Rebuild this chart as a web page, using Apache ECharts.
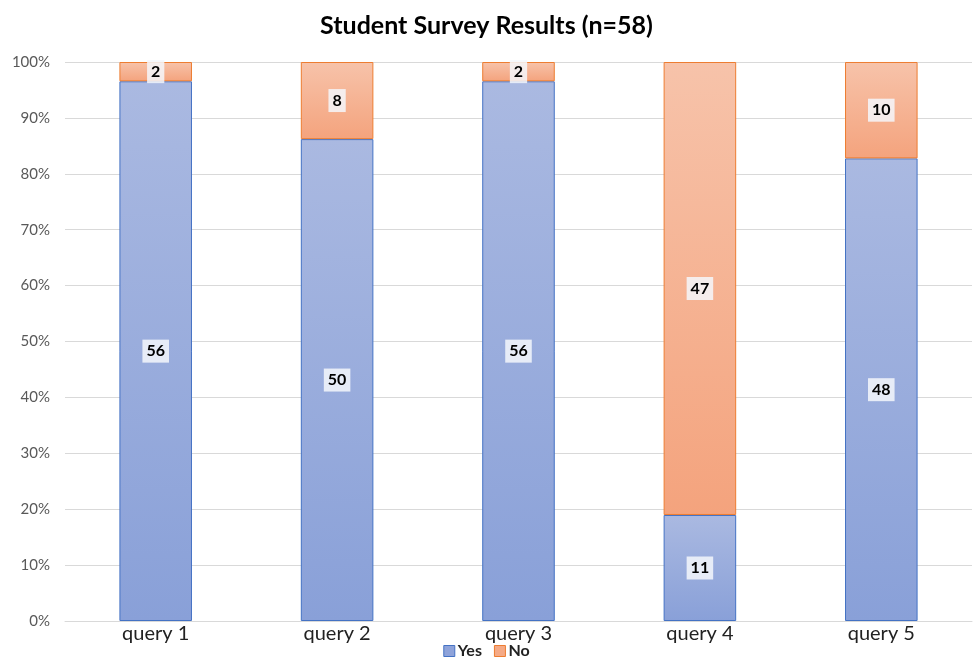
<!DOCTYPE html>
<html>
<head>
<meta charset="utf-8">
<script src="https://cdn.jsdelivr.net/npm/echarts@6/dist/echarts.min.js"></script>
<style>
    html, body { margin: 0; padding: 0; background: #fff; }
    #chart { width: 973px; height: 664px; }
</style>
</head>
<body>
<div id="chart"></div>
<script>
// survey data, counts per query
var categories = ['query 1', 'query 2', 'query 3', 'query 4', 'query 5'];
var yesCounts = [56, 50, 56, 11, 48];
var noCounts = [2, 8, 2, 47, 10];
var total = 58;

function toPct(counts) {
    return counts.map(function (c) { return c / total * 100; });
}

var yesGrad = new echarts.graphic.LinearGradient(0, 0, 0, 1, [
    { offset: 0, color: '#aab9e1' },
    { offset: 1, color: '#89a0d8' }
]);
var noGrad = new echarts.graphic.LinearGradient(0, 0, 0, 1, [
    { offset: 0, color: '#f7c3aa' },
    { offset: 1, color: '#f4a37d' }
]);

var labelStyle = function (counts) {
    return {
        show: true,
        position: 'inside',
        formatter: function (p) { return counts[p.dataIndex]; },
        color: '#000',
        fontFamily: 'Lato',
        fontWeight: 'bold',
        fontSize: 16,
        backgroundColor: 'rgba(245,247,252,0.85)',
        padding: [4, 4, 3, 4]
    };
};

var myChart = echarts.init(document.getElementById('chart'));
var option = {
    animation: false,
    title: {
        text: 'Student Survey Results (n=58)',
        left: 'center',
        top: 8,
        textStyle: { fontFamily: 'Lato', fontSize: 25, fontWeight: 'bold', color: '#000' }
    },
    legend: {
        bottom: 0,
        left: 'center',
        icon: 'rect',
        itemWidth: 11,
        itemHeight: 11,
        itemGap: 12,
        textStyle: { fontFamily: 'Lato', fontSize: 16, fontWeight: 'bold', color: '#222', padding: [0, 0, 0, -2] },
        data: [
            { name: 'Yes', itemStyle: { color: '#8ea3da', borderColor: '#4472c4', borderWidth: 1 } },
            { name: 'No', itemStyle: { color: '#f5aa86', borderColor: '#ed7d31', borderWidth: 1 } }
        ]
    },
    grid: { left: 65, right: 1, top: 62, bottom: 43, containLabel: false },
    xAxis: {
        type: 'category',
        data: categories,
        axisTick: { show: false },
        axisLine: { lineStyle: { color: '#d9d9d9' } },
        axisLabel: { fontFamily: 'Lato', fontSize: 20, color: '#222', margin: 3 }
    },
    yAxis: {
        type: 'value',
        min: 0,
        max: 100,
        interval: 10,
        axisLabel: { formatter: '{value}%', fontFamily: 'Lato', fontSize: 15, color: '#595959', margin: 15 },
        splitLine: { lineStyle: { color: '#d9d9d9', width: 1 } },
        axisLine: { show: false },
        axisTick: { show: false }
    },
    series: [
        {
            name: 'Yes',
            type: 'bar',
            stack: 'total',
            barWidth: '40%',
            data: toPct(yesCounts),
            itemStyle: { color: yesGrad, borderColor: '#4472c4', borderWidth: 1 },
            label: labelStyle(yesCounts)
        },
        {
            name: 'No',
            type: 'bar',
            stack: 'total',
            barWidth: '40%',
            data: toPct(noCounts),
            itemStyle: { color: noGrad, borderColor: '#ed7d31', borderWidth: 1 },
            label: labelStyle(noCounts)
        }
    ]
};
myChart.setOption(option);
</script>
</body>
</html>
